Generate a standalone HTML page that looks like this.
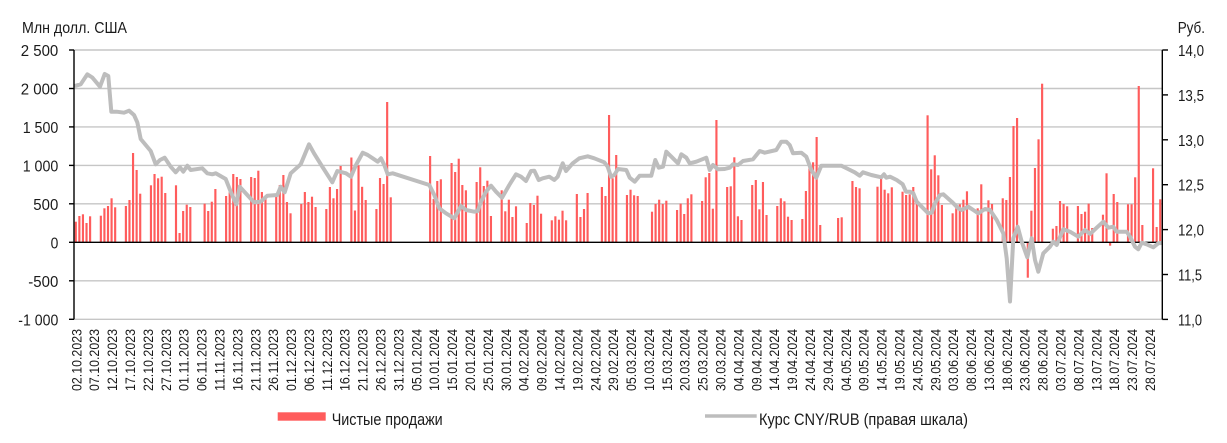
<!DOCTYPE html>
<html><head><meta charset="utf-8"><style>
html,body{margin:0;padding:0;background:#fff;width:1227px;height:443px;overflow:hidden;}
svg{display:block;}
text{font-family:"Liberation Sans","DejaVu Sans",sans-serif;fill:#1a1a1a;}
</style></head><body>
<svg width="1227" height="443" viewBox="0 0 1227 443" xmlns="http://www.w3.org/2000/svg">
<defs><clipPath id="c"><rect x="70" y="0" width="1100" height="242.3"/></clipPath></defs>
<g stroke="#c6c6c6" stroke-width="1.4">
<line x1="74" y1="50" x2="1162" y2="50"/><line x1="74" y1="88.5" x2="1162" y2="88.5"/><line x1="74" y1="126.9" x2="1162" y2="126.9"/><line x1="74" y1="165.4" x2="1162" y2="165.4"/><line x1="74" y1="203.8" x2="1162" y2="203.8"/><line x1="74" y1="280.8" x2="1162" y2="280.8"/><line x1="74" y1="319.3" x2="1162" y2="319.3"/>
</g>
<g clip-path="url(#c)"><g transform="translate(74,0) scale(3.579,1)" fill="#ff5c5c">
<rect x="0.2" y="221.7" width="0.6" height="160"/><rect x="1.2" y="216" width="0.6" height="160"/><rect x="2.2" y="214.3" width="0.6" height="160"/><rect x="3.2" y="223" width="0.6" height="160"/><rect x="4.2" y="216.3" width="0.6" height="160"/>
<rect x="7.2" y="215.7" width="0.6" height="160"/><rect x="8.2" y="208.3" width="0.6" height="160"/><rect x="9.2" y="206" width="0.6" height="160"/><rect x="10.2" y="198.3" width="0.6" height="160"/><rect x="11.2" y="207.3" width="0.6" height="160"/>
<rect x="14.2" y="206" width="0.6" height="160"/><rect x="15.2" y="200" width="0.6" height="160"/><rect x="16.2" y="153" width="0.6" height="160"/><rect x="17.2" y="170" width="0.6" height="160"/><rect x="18.2" y="193.7" width="0.6" height="160"/>
<rect x="21.2" y="185.3" width="0.6" height="160"/><rect x="22.2" y="174" width="0.6" height="160"/><rect x="23.2" y="178.3" width="0.6" height="160"/><rect x="24.2" y="176.7" width="0.6" height="160"/><rect x="25.2" y="193" width="0.6" height="160"/>
<rect x="28.2" y="185.3" width="0.6" height="160"/><rect x="29.2" y="233" width="0.6" height="160"/><rect x="30.2" y="211" width="0.6" height="160"/><rect x="31.2" y="204.7" width="0.6" height="160"/><rect x="32.2" y="207" width="0.6" height="160"/>
<rect x="36.2" y="203.7" width="0.6" height="160"/><rect x="37.2" y="211" width="0.6" height="160"/><rect x="38.2" y="201.7" width="0.6" height="160"/><rect x="39.2" y="189" width="0.6" height="160"/>
<rect x="42.2" y="196" width="0.6" height="160"/><rect x="43.2" y="192.3" width="0.6" height="160"/><rect x="44.2" y="174" width="0.6" height="160"/><rect x="45.2" y="177" width="0.6" height="160"/><rect x="46.2" y="179" width="0.6" height="160"/>
<rect x="49.2" y="177" width="0.6" height="160"/><rect x="50.2" y="178" width="0.6" height="160"/><rect x="51.2" y="170.7" width="0.6" height="160"/><rect x="52.2" y="192" width="0.6" height="160"/><rect x="53.2" y="196.7" width="0.6" height="160"/>
<rect x="56.2" y="196.3" width="0.6" height="160"/><rect x="57.2" y="185" width="0.6" height="160"/><rect x="58.2" y="175" width="0.6" height="160"/><rect x="59.2" y="202" width="0.6" height="160"/><rect x="60.2" y="213.3" width="0.6" height="160"/>
<rect x="63.2" y="204" width="0.6" height="160"/><rect x="64.2" y="192" width="0.6" height="160"/><rect x="65.2" y="202" width="0.6" height="160"/><rect x="66.2" y="196.7" width="0.6" height="160"/><rect x="67.2" y="207" width="0.6" height="160"/>
<rect x="70.2" y="209" width="0.6" height="160"/><rect x="71.2" y="187" width="0.6" height="160"/><rect x="72.2" y="198.3" width="0.6" height="160"/><rect x="73.2" y="189" width="0.6" height="160"/><rect x="74.2" y="166" width="0.6" height="160"/>
<rect x="77.2" y="157.5" width="0.6" height="160"/><rect x="78.2" y="210.5" width="0.6" height="160"/><rect x="79.2" y="165.3" width="0.6" height="160"/><rect x="80.2" y="186.8" width="0.6" height="160"/><rect x="81.2" y="200" width="0.6" height="160"/>
<rect x="84.2" y="209" width="0.6" height="160"/><rect x="85.2" y="178" width="0.6" height="160"/><rect x="86.2" y="184" width="0.6" height="160"/><rect x="87.2" y="102" width="0.6" height="160"/><rect x="88.2" y="197.3" width="0.6" height="160"/>
<rect x="99.2" y="156" width="0.6" height="160"/><rect x="100.2" y="199" width="0.6" height="160"/><rect x="101.2" y="181" width="0.6" height="160"/><rect x="102.2" y="179.3" width="0.6" height="160"/>
<rect x="105.2" y="163" width="0.6" height="160"/><rect x="106.2" y="172" width="0.6" height="160"/><rect x="107.2" y="158.7" width="0.6" height="160"/><rect x="108.2" y="185" width="0.6" height="160"/><rect x="109.2" y="190.3" width="0.6" height="160"/>
<rect x="112.2" y="182" width="0.6" height="160"/><rect x="113.2" y="167.3" width="0.6" height="160"/><rect x="114.2" y="186" width="0.6" height="160"/><rect x="115.2" y="180.7" width="0.6" height="160"/><rect x="116.2" y="216" width="0.6" height="160"/>
<rect x="119.2" y="190.3" width="0.6" height="160"/><rect x="120.2" y="211.3" width="0.6" height="160"/><rect x="121.2" y="199.7" width="0.6" height="160"/><rect x="122.2" y="217" width="0.6" height="160"/><rect x="123.2" y="206.3" width="0.6" height="160"/>
<rect x="126.2" y="223" width="0.6" height="160"/><rect x="127.2" y="203" width="0.6" height="160"/><rect x="128.2" y="205" width="0.6" height="160"/><rect x="129.2" y="195.7" width="0.6" height="160"/><rect x="130.2" y="213.7" width="0.6" height="160"/>
<rect x="133.2" y="220.3" width="0.6" height="160"/><rect x="134.2" y="216.3" width="0.6" height="160"/><rect x="135.2" y="219.7" width="0.6" height="160"/><rect x="136.2" y="210.7" width="0.6" height="160"/><rect x="137.2" y="220.3" width="0.6" height="160"/>
<rect x="140.2" y="194" width="0.6" height="160"/><rect x="141.2" y="217" width="0.6" height="160"/><rect x="142.2" y="209" width="0.6" height="160"/><rect x="143.2" y="193" width="0.6" height="160"/>
<rect x="147.2" y="187" width="0.6" height="160"/><rect x="148.2" y="196" width="0.6" height="160"/><rect x="149.2" y="115" width="0.6" height="160"/><rect x="150.2" y="178.3" width="0.6" height="160"/><rect x="151.2" y="155" width="0.6" height="160"/>
<rect x="154.2" y="195" width="0.6" height="160"/><rect x="155.2" y="189.7" width="0.6" height="160"/><rect x="156.2" y="195.3" width="0.6" height="160"/><rect x="157.2" y="196" width="0.6" height="160"/>
<rect x="161.2" y="211.7" width="0.6" height="160"/><rect x="162.2" y="204" width="0.6" height="160"/><rect x="163.2" y="199.7" width="0.6" height="160"/><rect x="164.2" y="204" width="0.6" height="160"/><rect x="165.2" y="200.7" width="0.6" height="160"/>
<rect x="168.2" y="210" width="0.6" height="160"/><rect x="169.2" y="203.7" width="0.6" height="160"/><rect x="170.2" y="214" width="0.6" height="160"/><rect x="171.2" y="198.3" width="0.6" height="160"/><rect x="172.2" y="194.3" width="0.6" height="160"/>
<rect x="175.2" y="201" width="0.6" height="160"/><rect x="176.2" y="177.3" width="0.6" height="160"/><rect x="177.2" y="173" width="0.6" height="160"/><rect x="178.2" y="208.7" width="0.6" height="160"/><rect x="179.2" y="120" width="0.6" height="160"/>
<rect x="182.2" y="187" width="0.6" height="160"/><rect x="183.2" y="186.3" width="0.6" height="160"/><rect x="184.2" y="157.3" width="0.6" height="160"/><rect x="185.2" y="216.3" width="0.6" height="160"/><rect x="186.2" y="220" width="0.6" height="160"/>
<rect x="189.2" y="185" width="0.6" height="160"/><rect x="190.2" y="180" width="0.6" height="160"/><rect x="191.2" y="209.3" width="0.6" height="160"/><rect x="192.2" y="182" width="0.6" height="160"/><rect x="193.2" y="215" width="0.6" height="160"/>
<rect x="196.2" y="206" width="0.6" height="160"/><rect x="197.2" y="198.3" width="0.6" height="160"/><rect x="198.2" y="201.3" width="0.6" height="160"/><rect x="199.2" y="216.7" width="0.6" height="160"/><rect x="200.2" y="220" width="0.6" height="160"/>
<rect x="203.2" y="219" width="0.6" height="160"/><rect x="204.2" y="191" width="0.6" height="160"/><rect x="205.2" y="162.3" width="0.6" height="160"/><rect x="206.2" y="162.3" width="0.6" height="160"/><rect x="207.2" y="137" width="0.6" height="160"/><rect x="208.2" y="225" width="0.6" height="160"/>
<rect x="213.2" y="218" width="0.6" height="160"/><rect x="214.2" y="217.3" width="0.6" height="160"/>
<rect x="217.2" y="181" width="0.6" height="160"/><rect x="218.2" y="187" width="0.6" height="160"/><rect x="219.2" y="188.3" width="0.6" height="160"/>
<rect x="224.2" y="186.7" width="0.6" height="160"/><rect x="225.2" y="177.7" width="0.6" height="160"/><rect x="226.2" y="189.7" width="0.6" height="160"/><rect x="227.2" y="193.3" width="0.6" height="160"/><rect x="228.2" y="187.3" width="0.6" height="160"/>
<rect x="231.2" y="191.7" width="0.6" height="160"/><rect x="232.2" y="195" width="0.6" height="160"/><rect x="233.2" y="194.3" width="0.6" height="160"/><rect x="234.2" y="187" width="0.6" height="160"/><rect x="235.2" y="199.3" width="0.6" height="160"/>
<rect x="238.2" y="115.3" width="0.6" height="160"/><rect x="239.2" y="169.3" width="0.6" height="160"/><rect x="240.2" y="155.3" width="0.6" height="160"/><rect x="241.2" y="175.3" width="0.6" height="160"/><rect x="242.2" y="205" width="0.6" height="160"/>
<rect x="245.2" y="213.3" width="0.6" height="160"/><rect x="246.2" y="208.3" width="0.6" height="160"/><rect x="247.2" y="204.3" width="0.6" height="160"/><rect x="248.2" y="199.7" width="0.6" height="160"/><rect x="249.2" y="191.3" width="0.6" height="160"/>
<rect x="252.2" y="208.3" width="0.6" height="160"/><rect x="253.2" y="184.3" width="0.6" height="160"/><rect x="255.2" y="200.3" width="0.6" height="160"/><rect x="256.2" y="204" width="0.6" height="160"/>
<rect x="259.2" y="198.3" width="0.6" height="160"/><rect x="260.2" y="200" width="0.6" height="160"/><rect x="261.2" y="177" width="0.6" height="160"/><rect x="262.2" y="126" width="0.6" height="160"/><rect x="263.2" y="118" width="0.6" height="160"/>
<rect x="267.2" y="210.7" width="0.6" height="160"/><rect x="268.2" y="168" width="0.6" height="160"/><rect x="269.2" y="139.3" width="0.6" height="160"/><rect x="270.2" y="83.7" width="0.6" height="160"/>
<rect x="273.2" y="228.7" width="0.6" height="160"/><rect x="274.2" y="226" width="0.6" height="160"/><rect x="275.2" y="201" width="0.6" height="160"/><rect x="276.2" y="204" width="0.6" height="160"/><rect x="277.2" y="206.3" width="0.6" height="160"/>
<rect x="280.2" y="206" width="0.6" height="160"/><rect x="281.2" y="214" width="0.6" height="160"/><rect x="282.2" y="211.7" width="0.6" height="160"/><rect x="283.2" y="203.7" width="0.6" height="160"/><rect x="284.2" y="228" width="0.6" height="160"/>
<rect x="287.2" y="214.7" width="0.6" height="160"/><rect x="288.2" y="173.3" width="0.6" height="160"/><rect x="290.2" y="194" width="0.6" height="160"/><rect x="291.2" y="202" width="0.6" height="160"/>
<rect x="294.2" y="204.3" width="0.6" height="160"/><rect x="295.2" y="204.3" width="0.6" height="160"/><rect x="296.2" y="177.3" width="0.6" height="160"/><rect x="297.2" y="86" width="0.6" height="160"/><rect x="298.2" y="225" width="0.6" height="160"/>
<rect x="301.2" y="168.3" width="0.6" height="160"/><rect x="302.2" y="227" width="0.6" height="160"/><rect x="303.2" y="199.3" width="0.6" height="160"/>
</g></g>
<g transform="translate(74,0) scale(3.579,1)" fill="#ff5c5c">
<rect x="266.2" y="242.3" width="0.6" height="35.4"/><rect x="289.2" y="242.3" width="0.6" height="3.4"/>
</g>
<line x1="74" y1="242.3" x2="1162" y2="242.3" stroke="#000" stroke-width="1.4"/>
<polyline fill="none" stroke="#bdbdbd" stroke-width="4" stroke-linejoin="round" stroke-linecap="round" points="75.8,85.7 80.7,84.3 87.3,74.3 92.3,77.5 100,86.7 104.7,74 108.3,76 111.3,111.7 116.7,111.7 124,112.7 129,110.7 134,115 137.3,122.3 140.7,139 150.7,151 155.7,164.3 160,160 164.7,157.7 170.7,166.7 175.7,172.3 180,167.3 183.3,171.7 187.3,165.7 190.7,170 202.3,168.3 207.3,173.3 212.3,174.3 215.7,173.3 225.7,179 230.7,191.7 236.3,204.3 239.7,186.7 247.3,195 254,202.3 260.7,201.7 267.3,195.7 277.3,195 280.7,186.7 284.7,192.3 290.7,173.3 300.7,164.3 309,144.3 314,153.3 322.3,166.7 332.3,182.3 337.3,171 346,173.3 351,176.7 356,165 362.7,152.7 367.7,155 372.7,158.3 377.7,161.7 381,158.3 384.3,165 387.7,174.3 392.7,173.3 429.3,185 434.3,195 439.3,208.3 446,213.3 454.3,218.3 461,206 466,210 474.3,211.7 477.7,211 481,201.7 486,191.7 491,185.7 496,191.7 502,197.7 509.3,185 516,174.3 521,176.7 526,181 531,171 534.3,170.7 538.7,180 542.7,178.3 549.3,176.7 554.3,180 557.7,176.7 562.7,163.3 566,171 572.7,163.3 579.3,158.3 587.7,156.3 594.3,158.3 604.3,162.3 607.7,166.7 611,176.7 614.3,175 618,169 626.3,170 629.7,177.7 634.7,181.7 639.7,175.7 651.3,175.7 655.3,160 658.7,167.7 663,166.7 666.3,151.7 673,158.3 678,163.3 681.3,154.3 686.3,157.7 689.7,163.3 696.3,161.7 706.3,157.7 709.7,170 713,165 718,169.3 724.7,169 729.7,167.7 733,164.3 738,165 743,161 753,159.3 759.7,151 764.7,152.7 776.3,150 781.3,141.7 786.3,141.7 789.7,145 793,153.3 801.3,152.7 806.3,156.7 811.3,170 816.3,177.7 821.3,165.7 841.3,165.7 848,169 854.7,172.3 859.7,175.7 863,172.3 871.3,175 881.3,177.3 884,174.3 886.3,177.7 890,176.7 896.7,180 902.7,184.3 906,191.7 910,191.7 913.3,193.3 916.7,201.7 923.3,208.3 928.3,213.3 931.7,212.7 935,203.3 940,195 943.3,194.3 951.7,201.7 958.3,208.3 961.7,210 968.3,206.7 973.3,210 978.3,213.3 985,209 990,210 996.7,220 1003.3,233.3 1006.7,258.3 1010,301.5 1013.3,238.3 1017.7,226.7 1021.7,241.7 1027.3,257.3 1031.7,238.3 1035,260 1038.3,271.7 1043.3,253.3 1050,246.7 1053.3,241.7 1056.7,245 1063.3,229.3 1070,231.7 1078.3,236.7 1085,230 1090,234 1096.7,227.7 1103.3,221.7 1108.3,227.7 1113.3,226.7 1116.7,231.7 1126.7,231.7 1130,236.7 1135,246.7 1138.3,249.3 1141.7,242.7 1146.7,244.3 1153.3,247.3 1158.3,243.3 1161,243"/>
<g stroke="#000" stroke-width="1.4">
<line x1="74" y1="50" x2="74" y2="319.3"/>
<line x1="69" y1="50" x2="74" y2="50"/><line x1="69" y1="88.5" x2="74" y2="88.5"/><line x1="69" y1="126.9" x2="74" y2="126.9"/><line x1="69" y1="165.4" x2="74" y2="165.4"/><line x1="69" y1="203.8" x2="74" y2="203.8"/><line x1="69" y1="242.3" x2="74" y2="242.3"/><line x1="69" y1="280.8" x2="74" y2="280.8"/><line x1="69" y1="319.3" x2="74" y2="319.3"/>
<line x1="1162.3" y1="50" x2="1162.3" y2="319.4"/>
<line x1="1162.3" y1="50" x2="1168" y2="50"/><line x1="1162.3" y1="94.9" x2="1168" y2="94.9"/><line x1="1162.3" y1="139.8" x2="1168" y2="139.8"/><line x1="1162.3" y1="184.7" x2="1168" y2="184.7"/><line x1="1162.3" y1="229.6" x2="1168" y2="229.6"/><line x1="1162.3" y1="274.5" x2="1168" y2="274.5"/><line x1="1162.3" y1="319.4" x2="1168" y2="319.4"/>
</g>
<g font-size="16" text-anchor="end">
<text x="58.3" y="56" textLength="37.6" lengthAdjust="spacingAndGlyphs">2 500</text>
<text x="58.3" y="94.5" textLength="37.6" lengthAdjust="spacingAndGlyphs">2 000</text>
<text x="58.3" y="133" textLength="35.6" lengthAdjust="spacingAndGlyphs">1 500</text>
<text x="58.3" y="171.4" textLength="35.6" lengthAdjust="spacingAndGlyphs">1 000</text>
<text x="58.3" y="209.8" textLength="25" lengthAdjust="spacingAndGlyphs">500</text>
<text x="58.3" y="248.3" textLength="7.7" lengthAdjust="spacingAndGlyphs">0</text>
<text x="58.3" y="286.8" textLength="30" lengthAdjust="spacingAndGlyphs">-500</text>
<text x="58.3" y="325.3" textLength="40" lengthAdjust="spacingAndGlyphs">-1 000</text>
</g>
<g font-size="16">
<text x="1178" y="56" textLength="26" lengthAdjust="spacingAndGlyphs">14,0</text>
<text x="1178" y="100.9" textLength="26" lengthAdjust="spacingAndGlyphs">13,5</text>
<text x="1178" y="145.8" textLength="26" lengthAdjust="spacingAndGlyphs">13,0</text>
<text x="1178" y="190.7" textLength="26" lengthAdjust="spacingAndGlyphs">12,5</text>
<text x="1178" y="235.6" textLength="26" lengthAdjust="spacingAndGlyphs">12,0</text>
<text x="1178" y="280.5" textLength="24" lengthAdjust="spacingAndGlyphs">11,5</text>
<text x="1178" y="325.4" textLength="24" lengthAdjust="spacingAndGlyphs">11,0</text>
<text x="22" y="32.8" font-size="15.5" textLength="105" lengthAdjust="spacingAndGlyphs">Млн долл. США</text>
<text x="1177.7" y="32.8" font-size="15.5" textLength="27.3" lengthAdjust="spacingAndGlyphs">Руб.</text>
</g>
<g font-size="14" text-anchor="end">
<text transform="translate(81.3,329) rotate(-90)" textLength="62" lengthAdjust="spacingAndGlyphs">02.10.2023</text>
<text transform="translate(99.2,329) rotate(-90)" textLength="62" lengthAdjust="spacingAndGlyphs">07.10.2023</text>
<text transform="translate(117.1,329) rotate(-90)" textLength="62" lengthAdjust="spacingAndGlyphs">12.10.2023</text>
<text transform="translate(135,329) rotate(-90)" textLength="62" lengthAdjust="spacingAndGlyphs">17.10.2023</text>
<text transform="translate(152.9,329) rotate(-90)" textLength="62" lengthAdjust="spacingAndGlyphs">22.10.2023</text>
<text transform="translate(170.8,329) rotate(-90)" textLength="62" lengthAdjust="spacingAndGlyphs">27.10.2023</text>
<text transform="translate(188.7,329) rotate(-90)" textLength="62" lengthAdjust="spacingAndGlyphs">01.11.2023</text>
<text transform="translate(206.6,329) rotate(-90)" textLength="62" lengthAdjust="spacingAndGlyphs">06.11.2023</text>
<text transform="translate(224.5,329) rotate(-90)" textLength="62" lengthAdjust="spacingAndGlyphs">11.11.2023</text>
<text transform="translate(242.4,329) rotate(-90)" textLength="62" lengthAdjust="spacingAndGlyphs">16.11.2023</text>
<text transform="translate(260.3,329) rotate(-90)" textLength="62" lengthAdjust="spacingAndGlyphs">21.11.2023</text>
<text transform="translate(278.1,329) rotate(-90)" textLength="62" lengthAdjust="spacingAndGlyphs">26.11.2023</text>
<text transform="translate(296,329) rotate(-90)" textLength="62" lengthAdjust="spacingAndGlyphs">01.12.2023</text>
<text transform="translate(313.9,329) rotate(-90)" textLength="62" lengthAdjust="spacingAndGlyphs">06.12.2023</text>
<text transform="translate(331.8,329) rotate(-90)" textLength="62" lengthAdjust="spacingAndGlyphs">11.12.2023</text>
<text transform="translate(349.7,329) rotate(-90)" textLength="62" lengthAdjust="spacingAndGlyphs">16.12.2023</text>
<text transform="translate(367.6,329) rotate(-90)" textLength="62" lengthAdjust="spacingAndGlyphs">21.12.2023</text>
<text transform="translate(385.5,329) rotate(-90)" textLength="62" lengthAdjust="spacingAndGlyphs">26.12.2023</text>
<text transform="translate(403.4,329) rotate(-90)" textLength="62" lengthAdjust="spacingAndGlyphs">31.12.2023</text>
<text transform="translate(421.3,329) rotate(-90)" textLength="62" lengthAdjust="spacingAndGlyphs">05.01.2024</text>
<text transform="translate(439.2,329) rotate(-90)" textLength="62" lengthAdjust="spacingAndGlyphs">10.01.2024</text>
<text transform="translate(457.1,329) rotate(-90)" textLength="62" lengthAdjust="spacingAndGlyphs">15.01.2024</text>
<text transform="translate(475,329) rotate(-90)" textLength="62" lengthAdjust="spacingAndGlyphs">20.01.2024</text>
<text transform="translate(492.9,329) rotate(-90)" textLength="62" lengthAdjust="spacingAndGlyphs">25.01.2024</text>
<text transform="translate(510.8,329) rotate(-90)" textLength="62" lengthAdjust="spacingAndGlyphs">30.01.2024</text>
<text transform="translate(528.7,329) rotate(-90)" textLength="62" lengthAdjust="spacingAndGlyphs">04.02.2024</text>
<text transform="translate(546.6,329) rotate(-90)" textLength="62" lengthAdjust="spacingAndGlyphs">09.02.2024</text>
<text transform="translate(564.5,329) rotate(-90)" textLength="62" lengthAdjust="spacingAndGlyphs">14.02.2024</text>
<text transform="translate(582.4,329) rotate(-90)" textLength="62" lengthAdjust="spacingAndGlyphs">19.02.2024</text>
<text transform="translate(600.3,329) rotate(-90)" textLength="62" lengthAdjust="spacingAndGlyphs">24.02.2024</text>
<text transform="translate(618.2,329) rotate(-90)" textLength="62" lengthAdjust="spacingAndGlyphs">29.02.2024</text>
<text transform="translate(636,329) rotate(-90)" textLength="62" lengthAdjust="spacingAndGlyphs">05.03.2024</text>
<text transform="translate(653.9,329) rotate(-90)" textLength="62" lengthAdjust="spacingAndGlyphs">10.03.2024</text>
<text transform="translate(671.8,329) rotate(-90)" textLength="62" lengthAdjust="spacingAndGlyphs">15.03.2024</text>
<text transform="translate(689.7,329) rotate(-90)" textLength="62" lengthAdjust="spacingAndGlyphs">20.03.2024</text>
<text transform="translate(707.6,329) rotate(-90)" textLength="62" lengthAdjust="spacingAndGlyphs">25.03.2024</text>
<text transform="translate(725.5,329) rotate(-90)" textLength="62" lengthAdjust="spacingAndGlyphs">30.03.2024</text>
<text transform="translate(743.4,329) rotate(-90)" textLength="62" lengthAdjust="spacingAndGlyphs">04.04.2024</text>
<text transform="translate(761.3,329) rotate(-90)" textLength="62" lengthAdjust="spacingAndGlyphs">09.04.2024</text>
<text transform="translate(779.2,329) rotate(-90)" textLength="62" lengthAdjust="spacingAndGlyphs">14.04.2024</text>
<text transform="translate(797.1,329) rotate(-90)" textLength="62" lengthAdjust="spacingAndGlyphs">19.04.2024</text>
<text transform="translate(815,329) rotate(-90)" textLength="62" lengthAdjust="spacingAndGlyphs">24.04.2024</text>
<text transform="translate(832.9,329) rotate(-90)" textLength="62" lengthAdjust="spacingAndGlyphs">29.04.2024</text>
<text transform="translate(850.8,329) rotate(-90)" textLength="62" lengthAdjust="spacingAndGlyphs">04.05.2024</text>
<text transform="translate(868.7,329) rotate(-90)" textLength="62" lengthAdjust="spacingAndGlyphs">09.05.2024</text>
<text transform="translate(886.6,329) rotate(-90)" textLength="62" lengthAdjust="spacingAndGlyphs">14.05.2024</text>
<text transform="translate(904.5,329) rotate(-90)" textLength="62" lengthAdjust="spacingAndGlyphs">19.05.2024</text>
<text transform="translate(922.4,329) rotate(-90)" textLength="62" lengthAdjust="spacingAndGlyphs">24.05.2024</text>
<text transform="translate(940.3,329) rotate(-90)" textLength="62" lengthAdjust="spacingAndGlyphs">29.05.2024</text>
<text transform="translate(958.1,329) rotate(-90)" textLength="62" lengthAdjust="spacingAndGlyphs">03.06.2024</text>
<text transform="translate(976,329) rotate(-90)" textLength="62" lengthAdjust="spacingAndGlyphs">08.06.2024</text>
<text transform="translate(993.9,329) rotate(-90)" textLength="62" lengthAdjust="spacingAndGlyphs">13.06.2024</text>
<text transform="translate(1011.8,329) rotate(-90)" textLength="62" lengthAdjust="spacingAndGlyphs">18.06.2024</text>
<text transform="translate(1029.7,329) rotate(-90)" textLength="62" lengthAdjust="spacingAndGlyphs">23.06.2024</text>
<text transform="translate(1047.6,329) rotate(-90)" textLength="62" lengthAdjust="spacingAndGlyphs">28.06.2024</text>
<text transform="translate(1065.5,329) rotate(-90)" textLength="62" lengthAdjust="spacingAndGlyphs">03.07.2024</text>
<text transform="translate(1083.4,329) rotate(-90)" textLength="62" lengthAdjust="spacingAndGlyphs">08.07.2024</text>
<text transform="translate(1101.3,329) rotate(-90)" textLength="62" lengthAdjust="spacingAndGlyphs">13.07.2024</text>
<text transform="translate(1119.2,329) rotate(-90)" textLength="62" lengthAdjust="spacingAndGlyphs">18.07.2024</text>
<text transform="translate(1137.1,329) rotate(-90)" textLength="62" lengthAdjust="spacingAndGlyphs">23.07.2024</text>
<text transform="translate(1155,329) rotate(-90)" textLength="62" lengthAdjust="spacingAndGlyphs">28.07.2024</text>
</g>
<rect x="277.7" y="412.3" width="48" height="8.4" fill="#ff5c5c"/>
<text x="331.7" y="425" font-size="17" textLength="111" lengthAdjust="spacingAndGlyphs">Чистые продажи</text>
<line x1="705" y1="416" x2="756.7" y2="416" stroke="#bdbdbd" stroke-width="3.5"/>
<text x="759" y="425" font-size="17" textLength="209" lengthAdjust="spacingAndGlyphs">Курс CNY/RUB (правая шкала)</text>
</svg>
</body></html>
